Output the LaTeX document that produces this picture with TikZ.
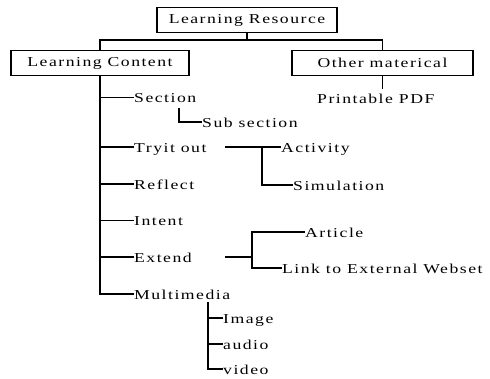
\documentclass[tikz,border=0pt]{standalone}
\usepackage{fontspec}
\setmainfont{Liberation Serif}[FakeStretch=1.3,LetterSpace=11]
\begin{document}
\begin{tikzpicture}[x=1pt,y=-1pt,
  link/.style={line width=1.7pt},
  box/.style={draw,line width=1.7pt,minimum height=25pt,inner sep=0pt,
    font=\fontsize{13.6pt}{16pt}\selectfont},
  leaf/.style={anchor=west,inner sep=0pt,text height=13pt,text depth=2pt,
    font=\fontsize{13.6pt}{16pt}\selectfont}]
\useasboundingbox (0,0) rectangle (490,379);

% top level boxes
\node[box,minimum width=180pt] (lr) at (247,20) {Learning Resource};
\node[box,minimum width=178pt] (lc) at (100,63) {Learning Content};
\node[box,minimum width=181pt] (om) at (382.5,63) {Other materical};
\coordinate (bus) at (247,40);
\draw[link] (lr.south) -- (bus);
\draw[link] (lc.north) |- (bus) -| (om.north);

% other material
\node[leaf,anchor=base west] (pdf) at (317,104) {Printable PDF};
\draw[link] (om.south) -- ++(0,13);

% learning content items
\node[leaf] (sec) at (134,97.5) {Section};
\node[leaf] (sub) at (202,122) {Sub section};
\node[leaf] (try) at (134,147) {Tryit out};
\node[leaf] (ref) at (134,184) {Reflect};
\node[leaf] (int) at (134,220.5) {Intent};
\node[leaf] (ext) at (134,257) {Extend};
\node[leaf] (mm)  at (134,294) {Multimedia};

\draw[link] (lc.south) |- (mm.west);
\foreach \n in {sec,try,ref,int,ext}
  \draw[link] (lc.south |- \n.west) -- (\n.west);

% section
\coordinate (subdrop) at (179,108);
\draw[link] (subdrop) |- (sub.west);

% try it out
\node[leaf] (act) at (281,147) {Activity};
\node[leaf] (sim) at (293,185) {Simulation};
\coordinate (trystart) at (225,147);
\coordinate (tryfork) at (262,147);
\draw[link] (trystart) -- (act.west);
\draw[link] (tryfork) |- (sim.west);

% extend
\node[leaf] (art) at (305,232) {Article};
\node[leaf] (web) at (282,268) {Link to External Webset};
\coordinate (extstart) at (225,257);
\coordinate (extfork) at (252,257);
\draw[link] (extstart) -- (extfork);
\draw[link] (art.west) -| (extfork |- web.west) -- (web.west);

% multimedia
\node[leaf] (img) at (223,318) {Image};
\node[leaf] (aud) at (223,344) {audio};
\node[leaf] (vid) at (223,369) {video};
\coordinate (mmdrop) at (208,302);
\draw[link] (mmdrop) |- (vid.west);
\draw[link] (mmdrop |- img.west) -- (img.west);
\draw[link] (mmdrop |- aud.west) -- (aud.west);
\end{tikzpicture}
\end{document}
